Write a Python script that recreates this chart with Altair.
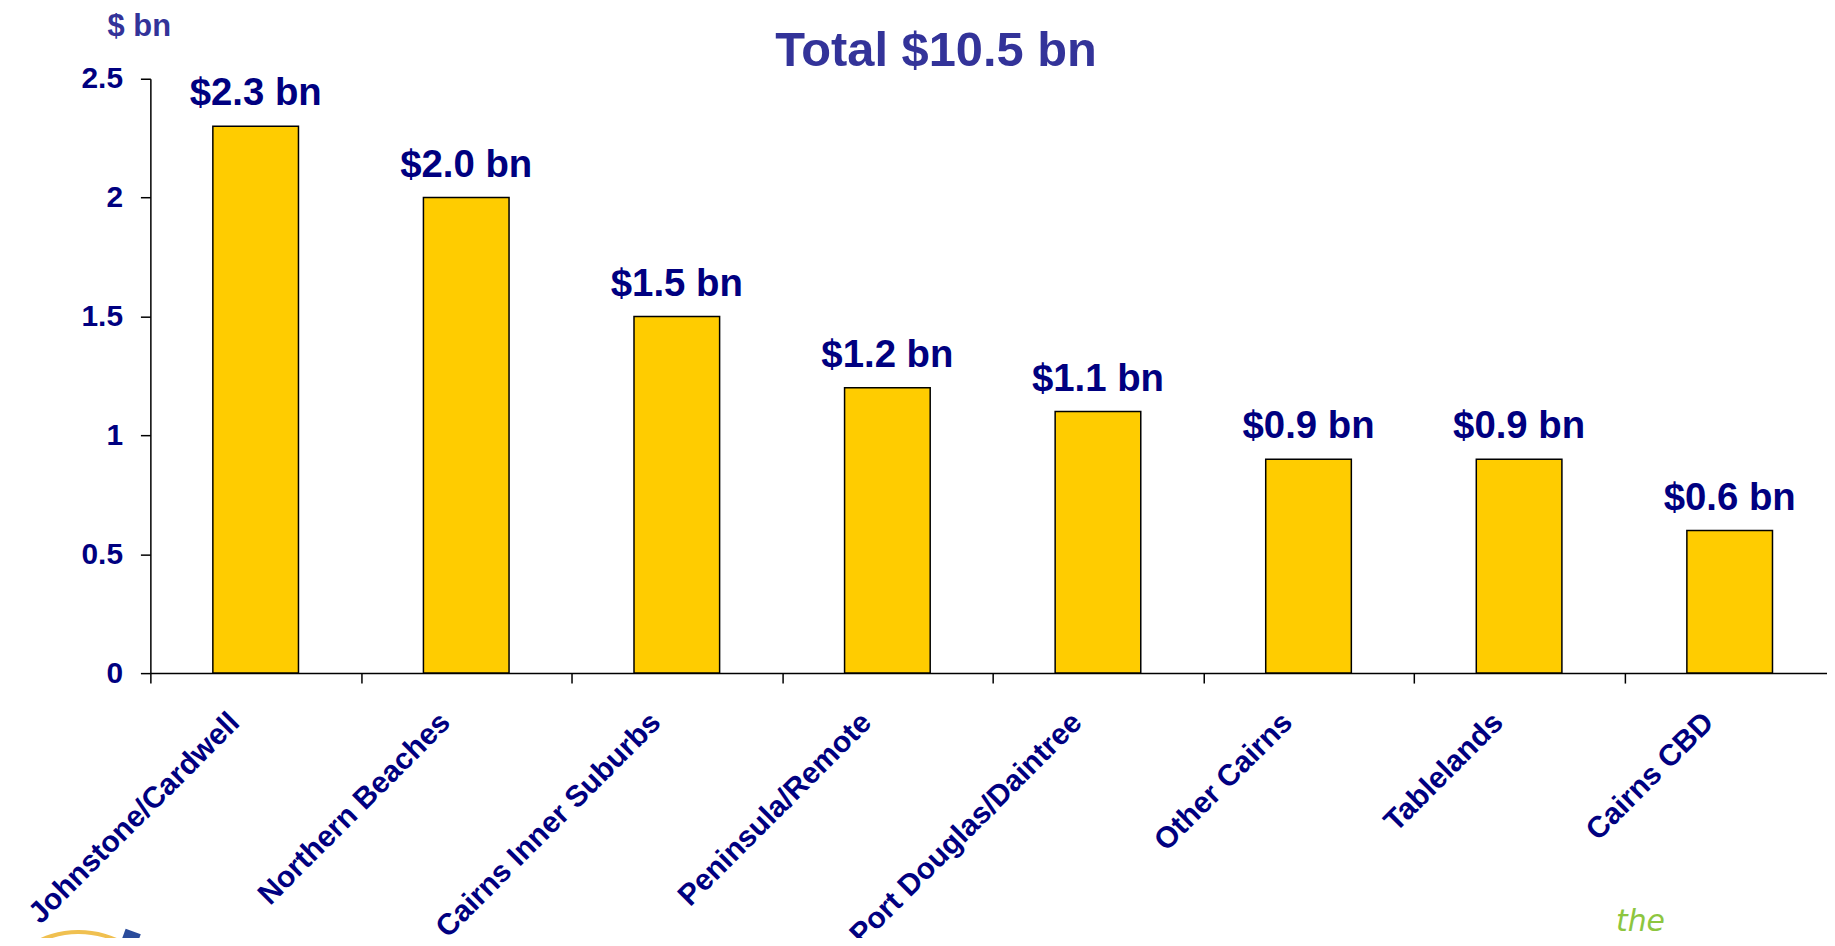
import altair as alt
import pandas as pd

regions = ["Johnstone/Cardwell", "Northern Beaches", "Cairns Inner Suburbs",
           "Peninsula/Remote", "Port Douglas/Daintree", "Other Cairns",
           "Tablelands", "Cairns CBD"]
values = [2.3, 2.0, 1.5, 1.2, 1.1, 0.9, 0.9, 0.6]
value_labels = ["$2.3 bn", "$2.0 bn", "$1.5 bn", "$1.2 bn", "$1.1 bn",
                "$0.9 bn", "$0.9 bn", "$0.6 bn"]
y_ticks = [0, 0.5, 1, 1.5, 2, 2.5]
title_text = ["Total $10.5 bn"]
unit_text = ["$ bn"]
logo_text = ["the"]

FONT = "Liberation Sans"
NAVY = "#000080"
TITLE_BLUE = "#333399"

df = pd.DataFrame({"region": regions, "value": values, "label": value_labels})

W, H = 1684, 597

x_enc = alt.X(
    "region:N", sort=regions,
    scale=alt.Scale(paddingInner=0, paddingOuter=0, range=[0, 1692]),
    axis=alt.Axis(
        title=None, labelAngle=-45, labelAlign="right", labelBaseline="top",
        labelOffset=-32, labelPadding=24, tickBand="extent", tickSize=10,
        labelFont=FONT, labelFontSize=30, labelFontWeight="bold",
        labelColor=NAVY, labelLimit=0, labelOverlap=False,
        domainColor="black", tickColor="black", domainWidth=1.5,
        tickWidth=1.5, grid=False,
    ),
)
y_enc = alt.Y(
    "value:Q",
    scale=alt.Scale(domain=[0, 2.5], nice=False),
    axis=alt.Axis(
        title=None, values=y_ticks, format="~g", tickSize=10, labelPadding=18,
        labelFont=FONT, labelFontSize=30, labelFontWeight="bold",
        labelColor=NAVY, domainColor="black", tickColor="black",
        domainWidth=1.5, tickWidth=1.5, grid=False,
    ),
)

bars = alt.Chart(df).mark_bar(
    width=86, fill="#FFCC00", stroke="black", strokeWidth=1.5
).encode(x=x_enc, y=y_enc)

labels = alt.Chart(df).mark_text(
    dy=-21, baseline="alphabetic", align="center", font=FONT, fontSize=38.5,
    fontWeight="bold", color=NAVY
).encode(x=alt.X("region:N", sort=regions), y="value:Q", text="label:N")

title = alt.Chart(pd.DataFrame({"t": title_text})).mark_text(
    align="center", baseline="alphabetic", font=FONT, fontSize=49,
    fontWeight="bold", color=TITLE_BLUE
).encode(x=alt.value(789), y=alt.value(-13), text="t:N")

unit = alt.Chart(pd.DataFrame({"t": unit_text})).mark_text(
    align="left", baseline="alphabetic", font=FONT, fontSize=31,
    fontWeight="bold", color=TITLE_BLUE
).encode(x=alt.value(-43), y=alt.value(-43), text="t:N")

logo_r = alt.Chart(pd.DataFrame({"t": logo_text})).mark_text(
    align="left", baseline="alphabetic", font="DejaVu Sans", fontSize=30,
    fontStyle="italic", color="#8DC63F"
).encode(x=alt.value(1472), y=alt.value(856), text="t:N")

logo_arc = alt.Chart(pd.DataFrame({"t": logo_text})).mark_arc(
    radius=95, radius2=91, theta=5.7, theta2=6.85, color="#F0C050"
).encode(x=alt.value(-72), y=alt.value(950))

logo_blue = alt.Chart(pd.DataFrame({"t": logo_text})).mark_point(
    shape="square", size=260, angle=20, filled=True, color="#2B4C9B", opacity=1
).encode(x=alt.value(-20), y=alt.value(864))

chart = alt.layer(bars, labels, title, unit, logo_r, logo_arc, logo_blue).properties(
    width=W, height=H,
    padding={"left": 143, "top": 69, "right": 0, "bottom": 930 - 69 - H},
    autosize=alt.AutoSizeParams(type="none"),
    background="white",
).configure_view(strokeWidth=0, stroke="transparent")

chart.save("out.html", embed_options={"renderer": "svg", "actions": False})
